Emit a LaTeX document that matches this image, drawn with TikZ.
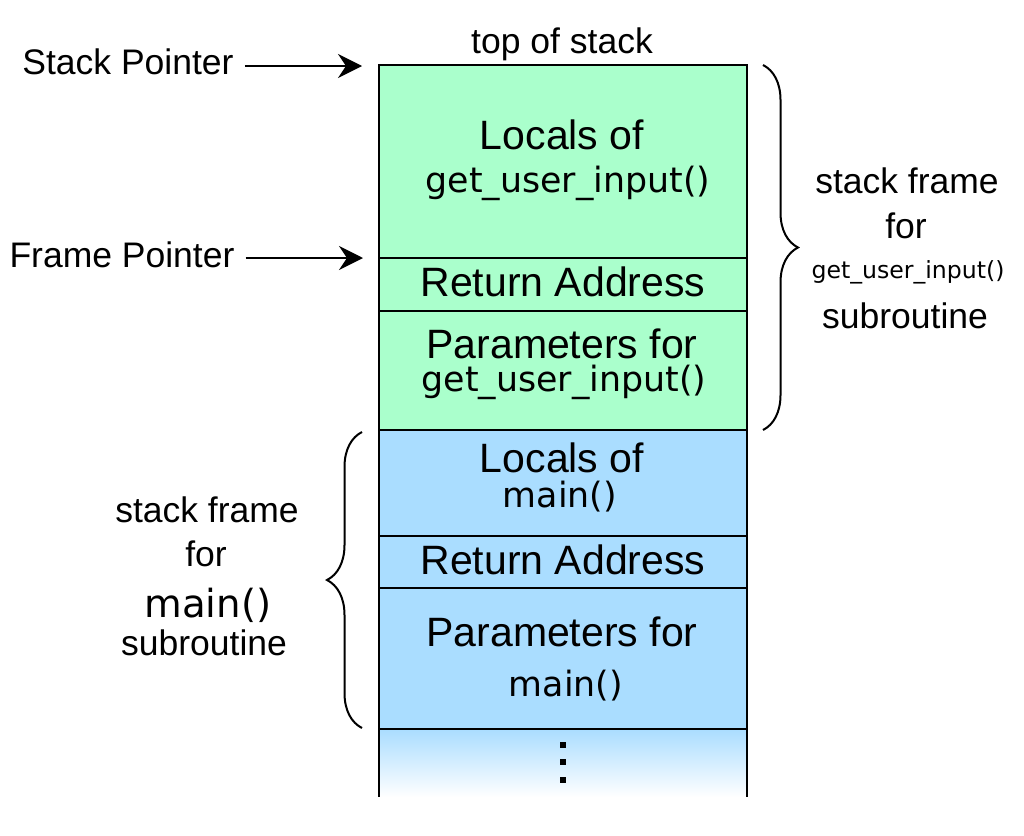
\documentclass[tikz,border=0pt]{standalone}
\usepackage{fontspec}
\setmainfont{Liberation Sans}
\newfontfamily\codefont{DejaVu Sans}
\usetikzlibrary{arrows.meta,decorations.pathreplacing}
\definecolor{framegreen}{HTML}{AAFFCC}
\definecolor{frameblue}{HTML}{AADDFF}
\tikzset{
  cell/.style={draw, line width=2pt, minimum width=368pt, inner sep=0pt, outer sep=0pt},
  word/.style={font=\fontsize{41}{41}\selectfont, inner sep=0pt},
  code/.style={font=\codefont\fontsize{34.8}{34.8}\selectfont, inner sep=0pt},
  side/.style={font=\fontsize{35.5}{35.5}\selectfont, inner sep=0pt},
  pointer/.style={line width=2pt, -{Stealth[length=24pt,width=24pt,inset=8pt]}},
  curly/.style={line width=2pt, decorate, decoration={brace, amplitude=35pt}},
}
\begin{document}
\begin{tikzpicture}[x=1pt,y=-1pt]
\useasboundingbox (0,0) rectangle (1024,835);
% rest of the stack
\shade[top color=frameblue, bottom color=white] (379,729) rectangle (747,797);
\path[draw,line width=2pt] (379,729) -- (379,797) (747,729) -- (747,797);
% frame of get_user_input()
\node[cell, fill=framegreen, minimum height=193pt] (g1) at (563,161.5) {};
\node[cell, fill=framegreen, minimum height=53pt] (g2) at (563,284.5) {};
\node[cell, fill=framegreen, minimum height=119pt] (g3) at (563,370.5) {};
% frame of main()
\node[cell, fill=frameblue, minimum height=106pt] (b1) at (563,483) {};
\node[cell, fill=frameblue, minimum height=52pt] (b2) at (563,562) {};
\node[cell, fill=frameblue, minimum height=141pt] (b3) at (563,658.5) {};
\foreach \y in {742,759,777}
  \fill (560,\y) rectangle ++(6,6);
% texts in the cells
\node[word] (t1) at (562,135) {Locals of};
\node[code] (c1) at (568,183) {get\_user\_input()};
\node[word] (t2) at (563,282) {Return Address};
\node[word] (t3) at (562,344) {Parameters for};
\node[code] (c3) at (564,382) {get\_user\_input()};
\node[word] (t4) at (562,458) {Locals of};
\node[code] (c4) at (560,497) {main()};
\node[word] (t5) at (563,560) {Return Address};
\node[word] (t6) at (562,632) {Parameters for};
\node[code] (c6) at (566,686) {main()};
% pointers
\node[side] (tos) at (562,44) {top of stack};
\node[side, inner xsep=11pt] (sp) at (128,62) {Stack Pointer};
\node[side, inner xsep=11pt] (fp) at (122,255) {Frame Pointer};
\coordinate (sptip) at (362,66);
\coordinate (fptip) at (363,258);
\path[draw,pointer] (sp.east |- sptip) -- (sptip);
\path[draw,pointer] (fp.east |- fptip) -- (fptip);
% braces
\coordinate (rtop) at (763,65);
\coordinate (rbot) at (763,430);
\coordinate (ltop) at (362,432);
\coordinate (lbot) at (362,728);
\path[draw,curly] (rtop) -- (rbot);
\path[draw,curly] (lbot) -- (ltop);
\node[side] (r1) at (907,181) {stack frame};
\node[side] (r2) at (906,226) {for};
\node[code, font=\codefont\fontsize{23.6}{23.6}\selectfont] (r3) at (908,272) {get\_user\_input()};
\node[side] (r4) at (905,316) {subroutine};
\node[side] (l1) at (207,510) {stack frame};
\node[side] (l2) at (206,554) {for};
\node[code, font=\codefont\fontsize{38.7}{38.7}\selectfont] (l3) at (208,605) {main()};
\node[side] (l4) at (204,643) {subroutine};
\end{tikzpicture}
\end{document}
